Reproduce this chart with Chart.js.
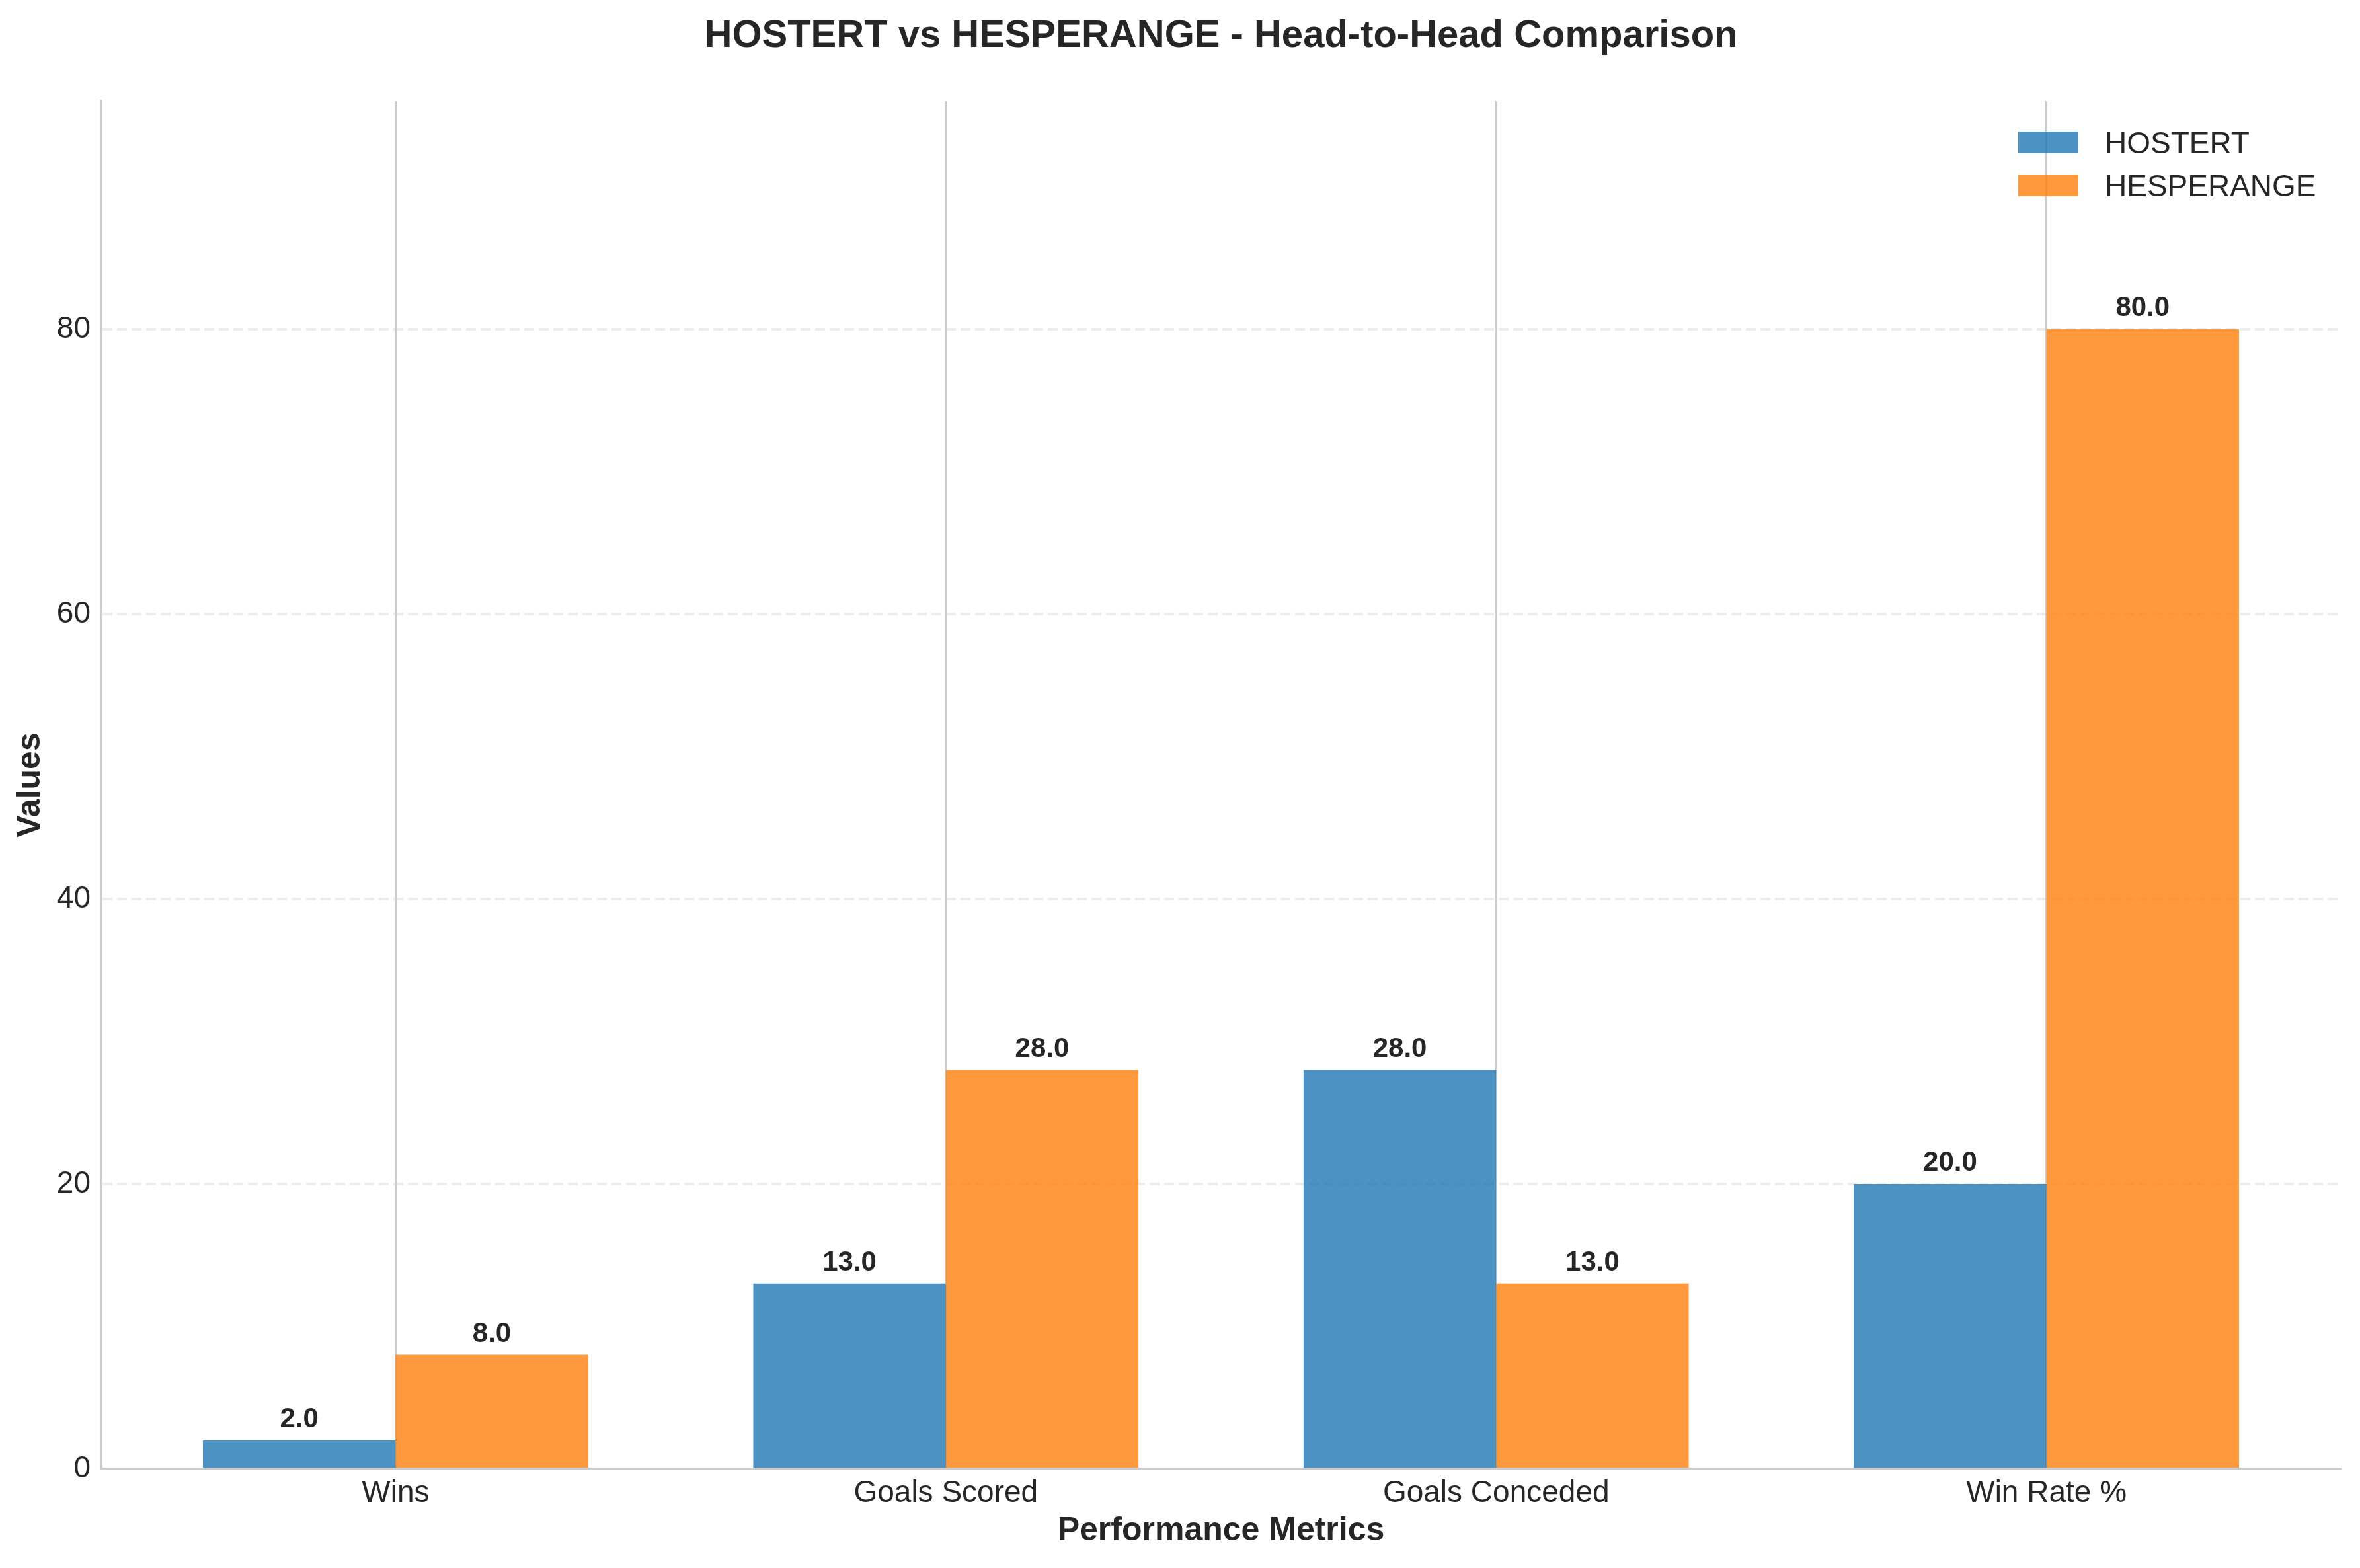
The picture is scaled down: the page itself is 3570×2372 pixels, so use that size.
<!DOCTYPE html>
<html>
<head>
<meta charset="utf-8">
<script src="https://cdn.jsdelivr.net/npm/chart.js@4.4.1/dist/chart.umd.min.js"></script>
<style>
  html, body { margin: 0; padding: 0; background: #fff; }
  #wrap { width: 3570px; height: 2372px; position: relative; }
</style>
</head>
<body>
<div id="wrap"><canvas id="h2hChart"></canvas></div>
<script>
var categories = ['Wins', 'Goals Scored', 'Goals Conceded', 'Win Rate %'];
var teamNames = ['HOSTERT', 'HESPERANGE'];
var hostertValues = [2, 13, 28, 20];
var hesperangeValues = [8, 28, 13, 80];
var yTicks = [0, 20, 40, 60, 80];

var textColor = '#262626';
var fontFamily = '"Liberation Sans", Arial, Helvetica, sans-serif';
var blue = 'rgba(31, 119, 180, 0.8)';
var orange = 'rgba(255, 127, 14, 0.8)';

function toPoints(values) {
    return values.map(function (v, i) {
        return { x: i, y: v };
    });
}

// value labels above bars
const barValueLabels = {
    id: 'barValueLabels',
    afterDatasetsDraw: function (chart) {
        const ctx = chart.ctx;
        ctx.save();
        ctx.font = 'bold 42px ' + fontFamily;
        ctx.fillStyle = textColor;
        ctx.textAlign = 'center';
        ctx.textBaseline = 'alphabetic';
        chart.data.datasets.forEach(function (ds, di) {
            chart.getDatasetMeta(di).data.forEach(function (bar, i) {
                ctx.fillText(ds.data[i].y.toFixed(1), bar.x, bar.y - 20);
            });
        });
        ctx.restore();
    },
};

// title + legend drawn like matplotlib
const figureExtras = {
    id: 'figureExtras',
    afterDraw: function (chart) {
        const ctx = chart.ctx;
        const area = chart.chartArea;
        ctx.save();
        ctx.fillStyle = textColor;
        ctx.font = 'bold 58px ' + fontFamily;
        ctx.textAlign = 'center';
        ctx.textBaseline = 'middle';
        ctx.fillText('HOSTERT vs HESPERANGE - Head-to-Head Comparison', (area.left + area.right) / 2, 55);

        ctx.font = '46px ' + fontFamily;
        ctx.textAlign = 'left';
        ctx.textBaseline = 'alphabetic';
        chart.data.datasets.forEach(function (ds, i) {
            const top = 199 + i * 65;
            ctx.fillStyle = ds.backgroundColor;
            ctx.fillRect(3053, top, 91, 33);
            ctx.fillStyle = textColor;
            ctx.fillText(ds.label, 3184, top + 33);
        });
        ctx.restore();
    },
};

var h2hChart = new Chart(document.getElementById('h2hChart'), {
    type: 'bar',
    data: {
        datasets: [
            {
                label: teamNames[0],
                data: toPoints(hostertValues),
                backgroundColor: blue,
                borderWidth: 0,
            },
            {
                label: teamNames[1],
                data: toPoints(hesperangeValues),
                backgroundColor: orange,
                borderWidth: 0,
            },
        ],
    },
    options: {
        responsive: true,
        maintainAspectRatio: false,
        animation: false,
        devicePixelRatio: 1,
        categoryPercentage: 0.7,
        barPercentage: 1.0,
        layout: {
            padding: { top: 153, right: 29, bottom: 0, left: 0 },
        },
        scales: {
            x: {
                type: 'linear',
                min: -0.535,
                max: 3.535,
                offset: false,
                afterBuildTicks: function (axis) {
                    axis.ticks = categories.map(function (c, i) {
                        return { value: i };
                    });
                },
                afterFit: function (axis) {
                    axis.height = 150;
                },
                grid: {
                    offset: false,
                    color: '#cccccc',
                    lineWidth: 3,
                    drawTicks: false,
                },
                border: { display: true, color: '#cccccc', width: 4 },
                ticks: {
                    color: textColor,
                    font: { family: fontFamily, size: 46 },
                    padding: 10,
                    maxRotation: 0,
                    autoSkip: false,
                    callback: function (value) {
                        return categories[value];
                    },
                },
                title: {
                    display: true,
                    text: 'Performance Metrics',
                    color: textColor,
                    font: { family: fontFamily, size: 50, weight: 'bold' },
                    padding: { top: 0, bottom: 26 },
                },
            },
            y: {
                min: 0,
                max: 96,
                afterBuildTicks: function (axis) {
                    axis.ticks = yTicks.map(function (v) {
                        return { value: v };
                    });
                },
                afterFit: function (axis) {
                    axis.width = 153;
                },
                grid: {
                    color: 'rgba(204, 204, 204, 0.35)',
                    lineWidth: 4,
                    drawTicks: false,
                },
                border: { display: true, color: '#cccccc', width: 4, dash: [15, 7] },
                ticks: {
                    color: textColor,
                    font: { family: fontFamily, size: 46 },
                    padding: 16,
                },
                title: {
                    display: true,
                    text: 'Values',
                    color: textColor,
                    font: { family: fontFamily, size: 50, weight: 'bold' },
                    padding: { top: 16, bottom: 0 },
                },
            },
        },
        plugins: {
            legend: { display: false },
            tooltip: { enabled: false },
            title: { display: false },
        },
    },
    plugins: [barValueLabels, figureExtras],
});
</script>
</body>
</html>
